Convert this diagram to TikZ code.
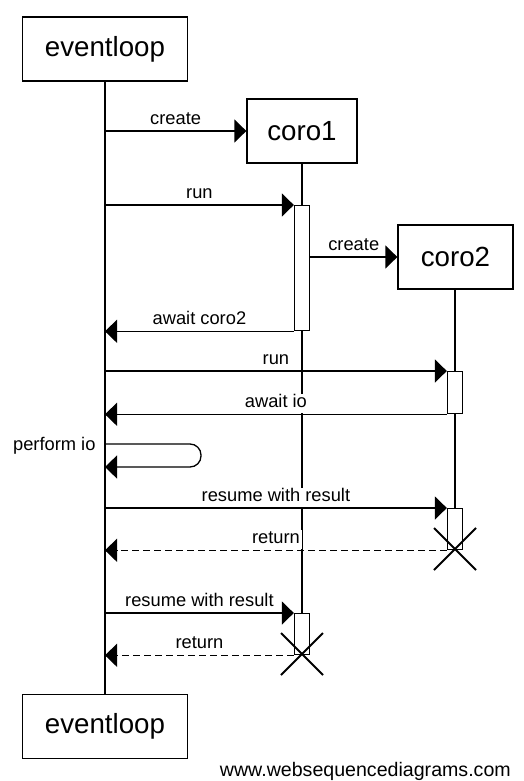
\documentclass[tikz,border=0pt]{standalone}
\usepackage{fontspec}
\setmainfont{Liberation Sans}
\usetikzlibrary{arrows.meta}
\begin{document}
\begin{tikzpicture}[x=1pt,y=-1pt,
  lw/.style={line width=1.3pt},
  actor/.style={draw, lw, minimum height=64pt, inner sep=0pt, font=\fontsize{27.7}{30}\selectfont},
  act/.style={draw, lw, fill=white, inner sep=0pt, minimum width=15pt, anchor=north},
  msg/.style={lw, -{Triangle[length=12pt,width=23pt]}},
  ret/.style={msg, dash pattern=on 7pt off 4pt},
  lbl/.style={fill=white, inner xsep=2pt, inner ysep=1pt, text height=13pt, text depth=4pt, anchor=south, yshift=0.8pt, font=\fontsize{18.3}{20}\selectfont},
  destroy/.style={line width=1.8pt}]
\fill[white] (0,0) rectangle (524,781);
\useasboundingbox (0,0) rectangle (524,781);

% actors
\node[actor, minimum width=165pt] (el) at (105,49) {eventloop};
\node[actor, minimum width=165pt] (el2) at (105,726.5) {eventloop};
\node[actor, minimum width=110pt] (c1) at (302,131) {coro1};
\node[actor, minimum width=115pt] (c2) at (455.5,257) {coro2};

% destruction points
\coordinate (x2) at (455,549);
\coordinate (x1) at (302,654);

% lifelines
\draw[lw] (el.south) -- (el2.north);
\draw[lw] (c1.south) -- (x1);
\draw[lw] (c2.south -| x2) -- (x2);

% activations
\node[act, minimum height=125pt] (a1) at (302,205) {};
\node[act, minimum height=42pt] (a2) at (455,371) {};
\node[act, minimum height=41pt] (a3) at (455,508) {};
\node[act, minimum height=41pt] (a4) at (302,613) {};

% messages
\draw[msg] (el |- c1.west) -- node[lbl] {create} (c1.west);
\draw[msg] (el |- a1.north) -- node[lbl] {run} (a1.north west);
\draw[msg] (a1.east |- c2.west) -- node[lbl] {create} (c2.west);
\draw[msg] (a1.south west) -- node[lbl] {await coro2} (el |- a1.south);
\draw[msg] (el |- a2.north) -- node[lbl] {run} (a2.north west);
\draw[msg] (a2.south west) -- node[lbl] {await io} (el |- a2.south);
\draw[msg, rounded corners=11pt] (el |- 0,444) -- (201,444) -- (201,467) -- (el |- 0,467);
\node[anchor=base east, font=\fontsize{18.3}{20}\selectfont] (pio) at (99,450.5) {perform io};
\draw[msg] (el |- a3.north) -- node[lbl] {resume with result} (a3.north west);
\draw[ret] (a3.south west) -- node[lbl] {return} (el |- a3.south);
\draw[msg] (el |- a4.north) -- node[lbl] {resume with result} (a4.north west);
\draw[ret] (a4.south west) -- node[lbl] {return} (el |- a4.south);

% destroy marks
\draw[destroy] (x2) ++(-21,-21) -- ++(42,42) (x2) ++(21,-21) -- ++(-42,42);
\draw[destroy] (x1) ++(-21,-21) -- ++(42,42) (x1) ++(21,-21) -- ++(-42,42);

% footer
\node[anchor=base east, font=\fontsize{19.6}{22}\selectfont, inner sep=0pt] (wsd) at (511,776) {www.websequencediagrams.com};
\end{tikzpicture}
\end{document}
